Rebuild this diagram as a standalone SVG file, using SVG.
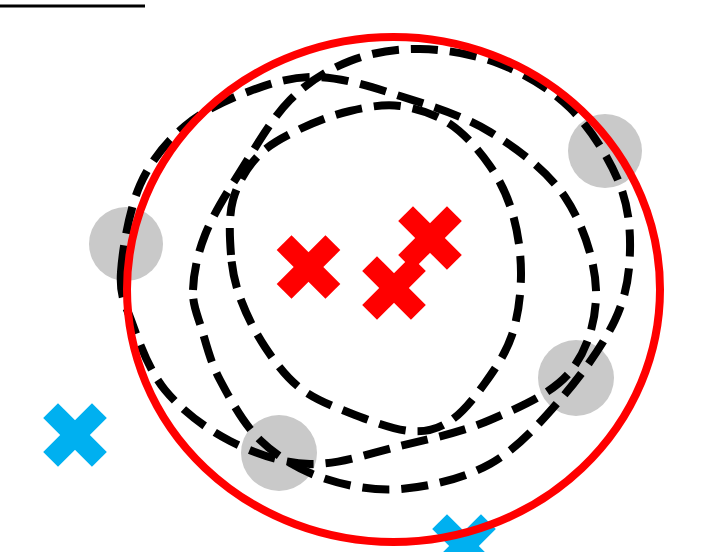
<svg xmlns="http://www.w3.org/2000/svg" width="701" height="552" viewBox="0 0 701 552">
  <style>
    .pt { fill: #c9c9c9; }
    .dash { fill: none; stroke: #000; stroke-width: 8; stroke-dasharray: 27 12; }
    .red-ring { fill: none; stroke: #ff0000; stroke-width: 8; }
    .xr { fill: #ff0000; }
    .xb { fill: #00b0f0; }
  </style>
  <defs>
    <g id="xm">
      <rect x="-34.5" y="-10.5" width="69" height="21" transform="rotate(45)"/>
      <rect x="-34.5" y="-10.5" width="69" height="21" transform="rotate(-45)"/>
    </g>
  </defs>
  <rect width="701" height="552" fill="#fff"/>
  <rect id="top-line" x="0" y="4.5" width="145" height="3" fill="#000"/>

  <g id="support-points">
    <circle class="pt" cx="126" cy="244" r="37"/>
    <circle class="pt" cx="605" cy="151" r="37"/>
    <circle class="pt" cx="576" cy="378" r="38"/>
    <circle class="pt" cx="279" cy="453" r="38"/>
  </g>

  <g id="blue-crosses">
    <use href="#xm" class="xb" transform="translate(75,435)"/>
    <use href="#xm" class="xb" transform="translate(464,546)"/>
  </g>

  <g id="red-crosses">
    <use href="#xm" class="xr" transform="translate(308.5,267)"/>
    <use href="#xm" class="xr" transform="translate(430,238)"/>
    <use href="#xm" class="xr" transform="translate(394,288)"/>
  </g>

  <g id="dashed-circles">
    <path id="circle-e2" class="dash" d="M121,272 C122.5,249.5 129.3,209.3 140,185 C150.7,160.7 166.7,141.7 185,126 C203.3,110.3 227.8,99.2 250,91 C272.2,82.8 293,76.2 318,77 C343,77.8 371.3,86.8 400,96 C428.7,105.2 462.5,115.2 490,132 C517.5,148.8 547.3,170.7 565,197 C582.7,223.3 595.2,260.8 596,290 C596.8,319.2 587.7,350.3 570,372 C552.3,393.7 518.3,407.7 490,420 C461.7,432.3 430,438.7 400,446 C370,453.3 338.3,464.8 310,464 C281.7,463.2 254.2,453.3 230,441 C205.8,428.7 181.5,410.2 165,390 C148.5,369.8 138.3,339.7 131,320 C123.7,300.3 119.5,294.5 121,272 Z"/>
    <path id="circle-e1" class="dash" d="M193,290 C193.5,274.2 197.2,254.7 205,235 C212.8,215.3 225.8,194.5 240,172 C254.2,149.5 271.7,118.5 290,100 C308.3,81.5 328.3,69.5 350,61 C371.7,52.5 395,48.5 420,49 C445,49.5 475,54.2 500,64 C525,73.8 550.3,88.7 570,108 C589.7,127.3 608,156.3 618,180 C628,203.7 630.5,226.7 630,250 C629.5,273.3 626.7,295 615,320 C603.3,345 580.8,376 560,400 C539.2,424 516.7,449.2 490,464 C463.3,478.8 428.3,486.8 400,489 C371.7,491.2 343.3,485.2 320,477 C296.7,468.8 276.7,456.2 260,440 C243.3,423.8 229.7,398.3 220,380 C210.3,361.7 206.5,345 202,330 C197.5,315 192.5,305.8 193,290 Z"/>
    <path id="circle-c" class="dash" d="M231,255 C229.7,238.3 228.5,216.5 233,200 C237.5,183.5 246.8,167.8 258,156 C269.2,144.2 284.7,136.5 300,129 C315.3,121.5 333.3,114.8 350,111 C366.7,107.2 383.3,103.8 400,106 C416.7,108.2 435,114 450,124 C465,134 479.5,150.8 490,166 C500.5,181.2 507.8,196.8 513,215 C518.2,233.2 521.2,255 521,275 C520.8,295 518,317 512,335 C506,353 495.3,368.7 485,383 C474.7,397.3 462.5,413 450,421 C437.5,429 426.7,432.3 410,431 C393.3,429.7 368.3,420.2 350,413 C331.7,405.8 314.2,399 300,388 C285.8,377 274.8,361.7 265,347 C255.2,332.3 246.7,315.3 241,300 C235.3,284.7 232.3,271.7 231,255 Z"/>
  </g>

  <g id="enclosing-circle">
    <ellipse class="red-ring" cx="393.5" cy="289.5" rx="266.5" ry="252.5"/>
  </g>
</svg>
